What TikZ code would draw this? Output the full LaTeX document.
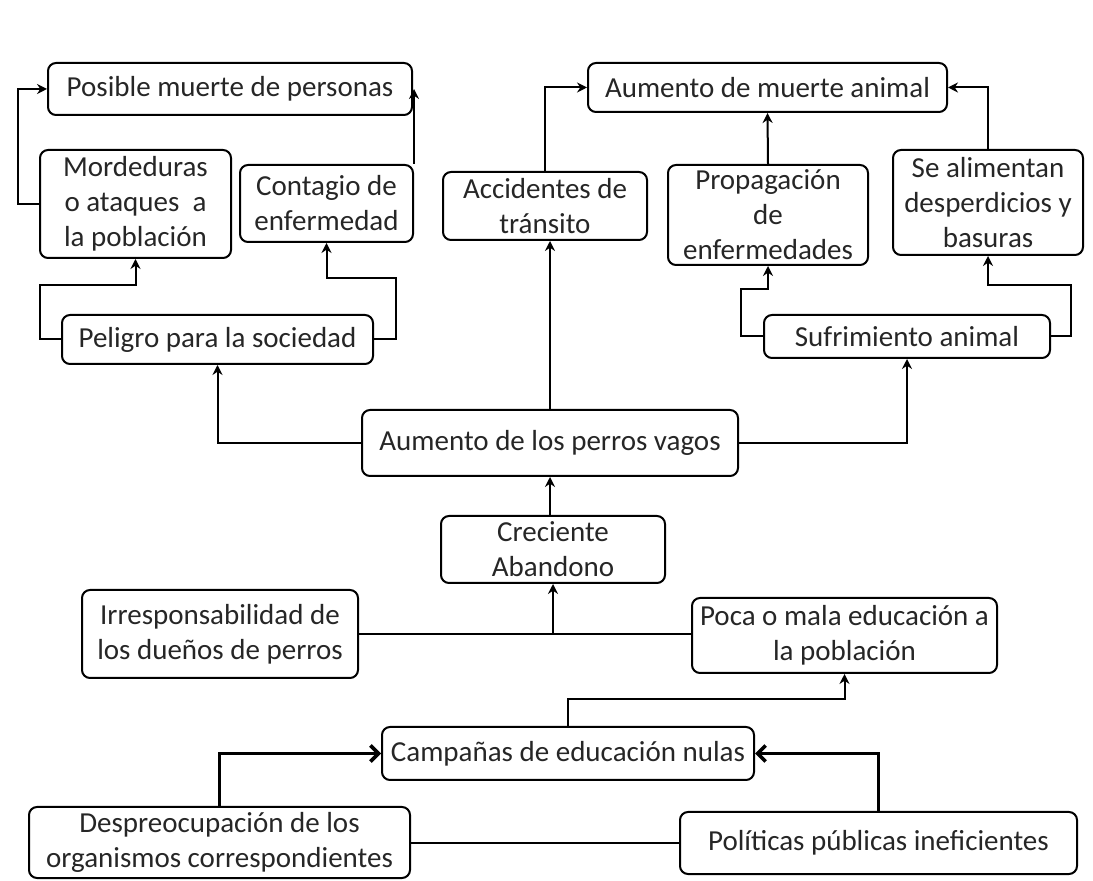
\documentclass[tikz,border=0pt]{standalone}
\usepackage{fontspec}
\setmainfont{Carlito}
\usetikzlibrary{arrows.meta}
\begin{document}
\begin{tikzpicture}[x=0.5pt,y=-0.5pt,
		caja/.style={draw,rounded corners=4pt,line width=1pt,align=center,inner sep=0pt,text=black!85,font=\fontsize{14.5}{17.5}\selectfont},
		linea/.style={line width=1pt},
		flecha/.style={line width=1pt,-{Stealth[length=5pt,width=5pt]}},
		gruesa/.style={line width=1.8pt,-{Straight Barb[length=4pt,width=8pt]}}]
	\useasboundingbox (0,0) rectangle (1093,881);
	\node[caja,minimum width=182pt,minimum height=26pt] (muerteP) at (230,89) {Posible muerte de personas};
	\node[caja,minimum width=95.5pt,minimum height=54pt] (mord) at (135.5,204) {Mordeduras\\o ataques~ a\\la población};
	\node[caja,minimum width=86.5pt,minimum height=38.5pt] (conta) at (326.5,203.5) {Contagio de\\enfermedad};
	\node[caja,minimum width=155.5pt,minimum height=24.5pt] (peligro) at (217.5,339.5) {Peligro para la sociedad};
	\node[caja,minimum width=179.5pt,minimum height=24.5pt] (muerteA) at (767.5,87.5) {Aumento de muerte animal};
	\node[caja,minimum width=102pt,minimum height=34pt] (accid) at (545,206) {Accidentes de\\tránsito};
	\node[caja,minimum width=100pt,minimum height=50pt] (propa) at (768,215) {Propagación\\de\\enfermedades};
	\node[caja,minimum width=95pt,minimum height=52.5pt] (alim) at (988,202.5) {Se alimentan\\desperdicios y\\basuras};
	\node[caja,minimum width=143pt,minimum height=21.5pt] (sufri) at (907,336.5) {Sufrimiento animal};
	\node[caja,minimum width=188pt,minimum height=33pt] (vagos) at (550,443) {Aumento de los perros vagos};
	\node[caja,minimum width=112pt,minimum height=33.5pt] (crec) at (553,549.5) {Creciente\\Abandono};
	\node[caja,minimum width=138pt,minimum height=44pt] (irresp) at (220,634) {Irresponsabilidad de\\los dueños de perros};
	\node[caja,minimum width=152.5pt,minimum height=37.5pt] (poca) at (844.5,635.5) {Poca o mala educación a\\la población};
	\node[caja,minimum width=186pt,minimum height=26.5pt] (campa) at (568,753.5) {Campañas de educación nulas};
	\node[caja,minimum width=190.5pt,minimum height=35.5pt] (despre) at (219.5,842.5) {Despreocupación de los\\organismos correspondientes};
	\node[caja,minimum width=198.5pt,minimum height=31pt] (polit) at (878.5,843) {Políticas públicas ineficientes};

	\draw[flecha] (vagos.west) -| (peligro.south);
	\draw[flecha] (vagos.north) -- (vagos.north |- accid.south);
	\draw[flecha] (vagos.east) -| (sufri.south);
	\draw[flecha] (vagos.south |- crec.north) -- (vagos.south);
	\draw[linea] (irresp.east) -- (irresp.east -| poca.west);
	\draw[flecha] (irresp.east -| crec.south) -- (crec.south);
	\draw[flecha] (campa.north) -- ++(0,-27) -| (poca.south);
	\draw[gruesa] (despre.north) |- (campa.west);
	\draw[gruesa] (polit.north) |- (campa.east);
	\draw[linea] (despre.east) -- (despre.east -| polit.west);

	\draw[flecha] (peligro.west) -| ++(-21,-54) -| (mord.south);
	\draw[flecha] (peligro.east) -| ++(22,-61) -| (conta.south);
	\draw[flecha] (mord.west) -- ++(-21,0) |- (muerteP.west);
	\draw[flecha] (conta.north east) -- (conta.north east |- muerteP.center);
	\draw[flecha] (accid.north) |- (muerteA.west);
	\draw[flecha] (propa.north) -- (muerteA.south);
	\draw[flecha] (alim.north) |- (muerteA.east);
	\draw[flecha] (sufri.west) -| ++(-22,-47.5) -| (propa.south);
	\draw[flecha] (sufri.east) -| ++(20,-51.5) -| (alim.south);
\end{tikzpicture}
\end{document}
